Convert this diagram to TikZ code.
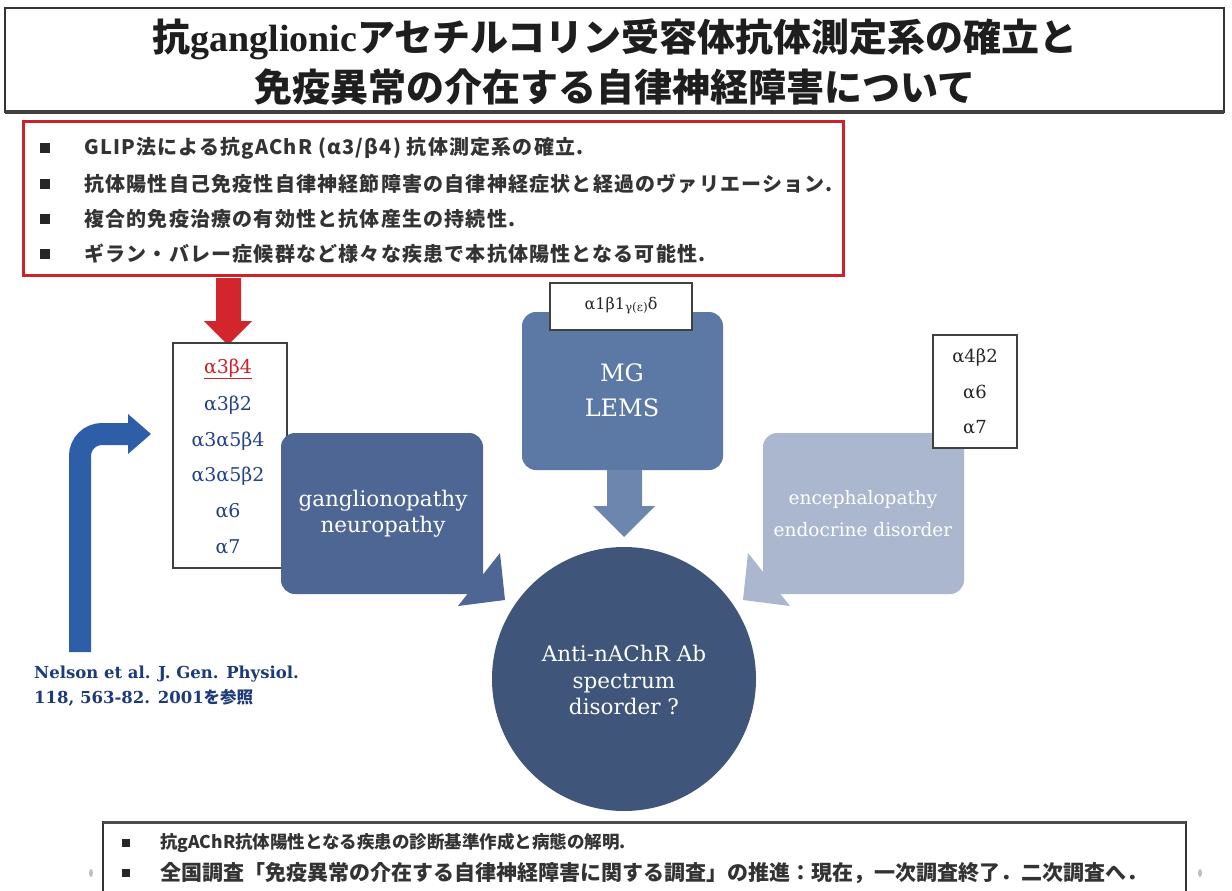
\documentclass[tikz,border=0pt]{standalone}
\usepackage{fontspec}
\setmainfont{DejaVu Serif}
\newfontfamily\jp{Noto Sans CJK JP}
\newfontfamily\jpsp[LetterSpace=6]{Noto Sans CJK JP}
\newfontfamily\tnr{Liberation Serif}
\newcommand\fsz[2]{\fontsize{#1bp}{#2bp}\selectfont}
\definecolor{redbox}{HTML}{D0202A}
\definecolor{arrowred}{HTML}{D3262C}
\definecolor{bentblue}{HTML}{2F5EA8}
\definecolor{gangcol}{HTML}{4E6693}
\definecolor{mgcol}{HTML}{5C79A6}
\definecolor{mgarrow}{HTML}{6D86AE}
\definecolor{circcol}{HTML}{3F5579}
\definecolor{enccol}{HTML}{AAB7CF}
\definecolor{navy}{HTML}{1E3A78}
\definecolor{alphablue}{HTML}{23408A}
\definecolor{titlecol}{HTML}{1E1E1E}
\tikzset{
  bul/.style={fill=black!85, minimum size=10bp, inner sep=0pt},
  jptext/.style={font=\jpsp\bfseries\fsz{20}{22}, anchor=west, inner sep=0pt, text=black!80},
  listbox/.style={draw=black!75, line width=2bp, fill=white, inner sep=0pt},
  alph/.style={font=\fsz{19}{20}, text=alphablue, inner sep=0pt},
  alphk/.style={font=\fsz{18}{20}, text=black!85, inner sep=0pt},
  whitelbl/.style={text=white, align=center, inner sep=0pt},
}
\begin{document}
\begin{tikzpicture}[x=1bp,y=-1bp]
\useasboundingbox (0,0) rectangle (1232,891);
\clip (0,0) rectangle (1232,891);
\fill[white] (0,0) rectangle (1232,891);

% title
\draw[line width=1.2bp, black!80] (5,8) rectangle (1224,112);
\draw[line width=4bp, black!75] (5,112) -- (1224,112);
\node[font=\jp\bfseries\fsz{38}{40}, text=titlecol, inner sep=0pt] (t1) at (615,39)
  {抗{\tnr\bfseries ganglionic}アセチルコリン受容体抗体測定系の確立と};
\node[font=\jp\bfseries\fsz{38}{40}, text=titlecol, inner sep=0pt] (t2) at (615,87)
  {免疫異常の介在する自律神経障害について};

% red box
\draw[line width=3bp, redbox] (23,121) rectangle (843,275);
\node[bul] (rb1) at (45,148) {};
\node[bul] (rb2) at (45,184) {};
\node[bul] (rb3) at (45,219) {};
\node[bul] (rb4) at (45,254) {};
\node[jptext] (r1) at (84,148) {GLIP法による抗gAChR (α3/β4) 抗体測定系の確立.};
\node[jptext] (r2) at (84,184) {抗体陽性自己免疫性自律神経節障害の自律神経症状と経過のヴァリエーション.};
\node[jptext] (r3) at (84,219) {複合的免疫治療の有効性と抗体産生の持続性.};
\node[jptext] (r4) at (84,254) {ギラン・バレー症候群など様々な疾患で本抗体陽性となる可能性.};

% red arrow
\fill[arrowred] (216,278) -- (241,278) -- (241,321) -- (252,321) -- (228,345) -- (204,321) -- (216,321) -- cycle;

% left alpha list
\node[listbox, minimum width=114bp, minimum height=225bp] (alist) at (230,455.5) {};
\node[alph, text=redbox] (a1) at (228,369) {\underline{α3β4}};
\node[alph] (a2) at (228,405) {α3β2};
\node[alph] (a3) at (228,441) {α3α5β4};
\node[alph] (a4) at (228,476) {α3α5β2};
\node[alph] (a5) at (228,511) {α6};
\node[alph] (a6) at (228,547) {α7};

% blue bent arrow
\draw[line width=22bp, bentblue, rounded corners=22bp] (80,652) -- (80,434) -- (130,434);
\fill[bentblue] (128,414) -- (151,434) -- (128,454) -- cycle;

% citation
\node[font=\bfseries\fsz{16.5}{25}, text=navy, anchor=north west, align=left, inner sep=0pt] (cite) at (34,666)
  {Nelson et al. J. Gen. Physiol.\\118, 563-82. 2001{\jp\bfseries を参照}};

% ganglionopathy box
\fill[gangcol, rounded corners=14bp] (281,433) rectangle (483,594);
\fill[gangcol] (500,553) -- (505,600) -- (458,606) -- cycle;
\node[whitelbl, font=\fsz{21.5}{26}] (gang) at (383,514) {ganglionopathy\\neuropathy};

% MG box
\fill[mgcol, rounded corners=14bp] (522,312) rectangle (723,470);
\node[whitelbl, font=\fsz{24}{35}] (mg) at (622,390) {MG\\LEMS};
\node[listbox, minimum width=142bp, minimum height=47bp, font=\fsz{16}{18}, text=black!85] (mgsub) at (621,306)
  {α1β1\raisebox{-2bp}{\fsz{12}{14}γ(ε)}δ};
\fill[mgarrow] (607,470) -- (642,470) -- (642,506) -- (655,506) -- (624,537) -- (593,506) -- (607,506) -- cycle;

% circle
\node[circle, fill=circcol, minimum size=264bp, inner sep=0pt] (circ) at (624,679) {};
\node[whitelbl, font=\fsz{21.5}{26.5}] (circtext) at (624,680) {Anti-nAChR Ab\\spectrum\\disorder ?};

% encephalopathy box
\fill[enccol, rounded corners=14bp] (763,433) rectangle (964,594);
\fill[enccol] (748,553) -- (743,600) -- (790,606) -- cycle;
\node[whitelbl, font=\fsz{18.5}{32}] (enc) at (863,514) {encephalopathy\\endocrine disorder};

% right alpha list
\node[listbox, minimum width=84bp, minimum height=113bp] (blist) at (975,391) {};
\node[alphk] (b1) at (975,357) {α4β2};
\node[alphk] (b2) at (975,392) {α6};
\node[alphk] (b3) at (975,427) {α7};

% bottom box
\draw[line width=1.5bp, black!80] (103,822) rectangle (1186,900);
\draw[line width=3bp, black!70] (103,822) -- (1186,822);
\node[bul, minimum size=8bp] (bb1) at (126,843) {};
\node[bul, minimum size=8bp] (bb2) at (126,873) {};
\node[jptext, font=\jp\bfseries\fsz{17.5}{22}] (s1) at (160,843) {抗gAChR抗体陽性となる疾患の診断基準作成と病態の解明.};
\node[jptext, font=\jp\bfseries\fsz{21}{22}] (s2) at (160,873) {全国調査「免疫異常の介在する自律神経障害に関する調査」の推進：現在，一次調査終了．二次調査へ．};
\fill[black!25] (91,873) ellipse (2bp and 4bp);
\fill[black!25] (1200,873) ellipse (2bp and 4bp);
\end{tikzpicture}
\end{document}
